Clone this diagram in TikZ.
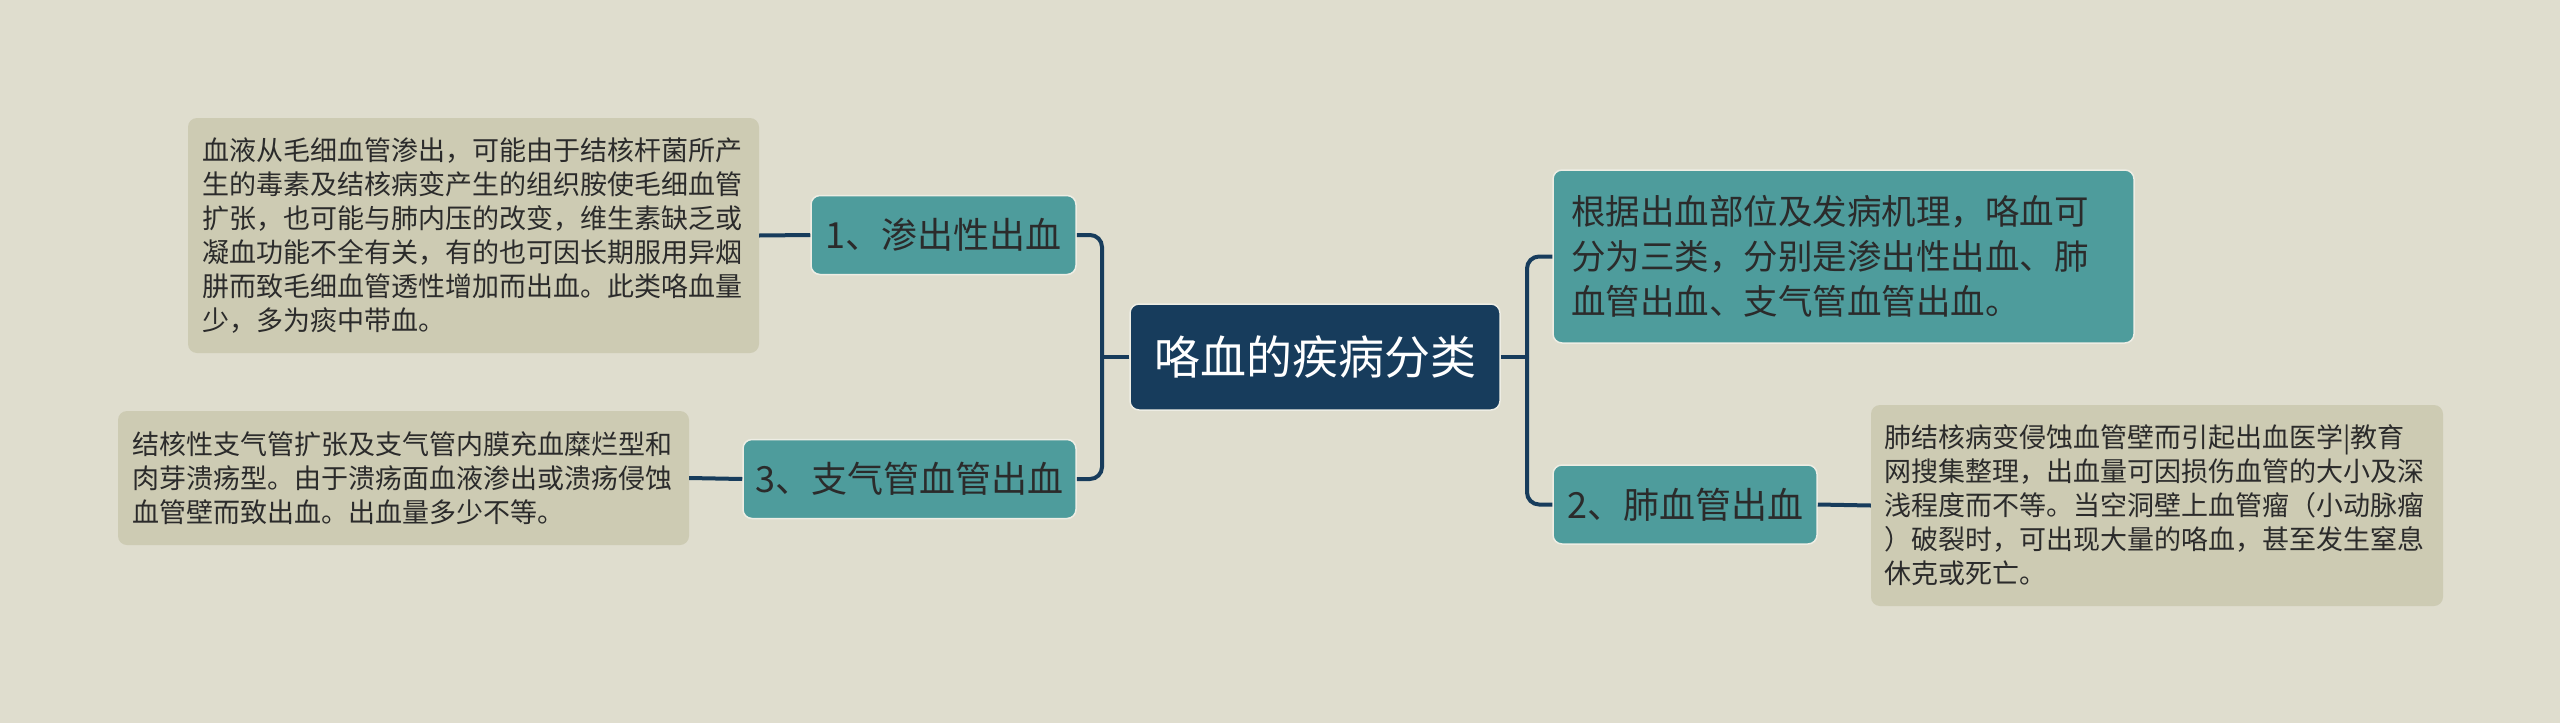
\documentclass[tikz,border=0pt]{standalone}
\usepackage{fontspec}
\usepackage{tikz}
\usetikzlibrary{positioning,calc}
\newfontfamily\cjk{Noto Sans CJK SC}
\definecolor{MapBg}{HTML}{DFDDCE}
\definecolor{MapNavy}{HTML}{173C5C}
\definecolor{MapTeal}{HTML}{4E9C9C}
\definecolor{MapSand}{HTML}{CDCBB3}
\definecolor{MapHalo}{HTML}{EEEDE4}
\definecolor{TextDark}{HTML}{2B2B2B}

\begin{document}
\begin{tikzpicture}[x=1pt, y=-1pt,
        every node/.style={font=\cjk},
        RT/.style={fill=MapNavy, draw=MapHalo, line width=1.5pt, rounded corners=9pt,
            minimum width=370pt, minimum height=106pt, inner sep=0pt,
            text=white, font=\cjk\fontsize{46}{50}\selectfont},
        BR/.style={fill=MapTeal, draw=MapHalo, line width=1.5pt, rounded corners=9pt,
            minimum height=79pt, inner sep=0pt,
            text=TextDark, font=\cjk\fontsize{36}{40}\selectfont},
        SM/.style={fill=MapTeal, draw=MapHalo, line width=1.5pt, rounded corners=9pt,
            align=left, inner xsep=18pt, inner ysep=0pt,
            text=TextDark, font=\cjk\fontsize{34.5}{45}\selectfont},
        NT/.style={fill=MapSand, rounded corners=9pt,
            align=left, inner xsep=14pt, inner ysep=0pt,
            text=TextDark, font=\cjk\fontsize{27}{34}\selectfont},
        link/.style={draw=MapNavy, line width=4pt, rounded corners=12pt},
      ]

      % Background
      \fill[MapBg] (0,0) rectangle (2560,723);

      % Main nodes
      \node[RT] (root) at (1315, 357) {咯血的疾病分类};

      \node[BR, minimum width=265pt] (bleed1) at (943.5, 235) {1、渗出性出血};
      \node[BR, minimum width=333pt] (bleed3) at (909.5, 479) {3、支气管血管出血};
      \node[BR, minimum width=264pt] (bleed2) at (1685, 504.5) {2、肺血管出血};

      \node[SM, text width=545pt, minimum height=173pt] (summary) at (1843.5, 256.5)
        {根据出血部位及发病机理，咯血可\\分为三类，分别是渗出性出血、肺\\血管出血、支气管血管出血。};

      % Notes
      \node[NT, text width=543pt, minimum height=235pt] (note1) at (473.5, 235.5)
        {血液从毛细血管渗出，可能由于结核杆菌所产\\生的毒素及结核病变产生的组织胺使毛细血管\\扩张，也可能与肺内压的改变，维生素缺乏或\\凝血功能不全有关，有的也可因长期服用异烟\\肼而致毛细血管透性增加而出血。此类咯血量\\少，多为痰中带血。};
      \node[NT, text width=543pt, minimum height=134pt] (note3) at (403.5, 478)
        {结核性支气管扩张及支气管内膜充血糜烂型和\\肉芽溃疡型。由于溃疡面血液渗出或溃疡侵蚀\\血管壁而致出血。出血量多少不等。};
      \node[NT, inner xsep=13pt, text width=546pt, minimum height=201pt] (note2) at (2157, 505.5)
        {肺结核病变侵蚀血管壁而引起出血医学|教育\\网搜集整理，出血量可因损伤血管的大小及深\\浅程度而不等。当空洞壁上血管瘤（小动脉瘤\\）破裂时，可出现大量的咯血，甚至发生窒息\\休克或死亡。};

      % Fork coordinates
      \coordinate (lfork) at (1102, 357);
      \coordinate (rfork) at (1527, 357);

      % Links
      \draw[link] (root.west) -- (lfork);
      \draw[link] (lfork) |- (bleed1.east);
      \draw[link] (lfork) |- (bleed3.east);
      \draw[link] (root.east) -- (rfork);
      \draw[link] (rfork) |- (summary.west);
      \draw[link] (rfork) |- (bleed2.west);

      \draw[link] (bleed1.west) -- (note1.east);
      \draw[link] (bleed3.west) -- (note3.east);
      \draw[link] (bleed2.east) -- (note2.west);

    \end{tikzpicture}
\end{document}
